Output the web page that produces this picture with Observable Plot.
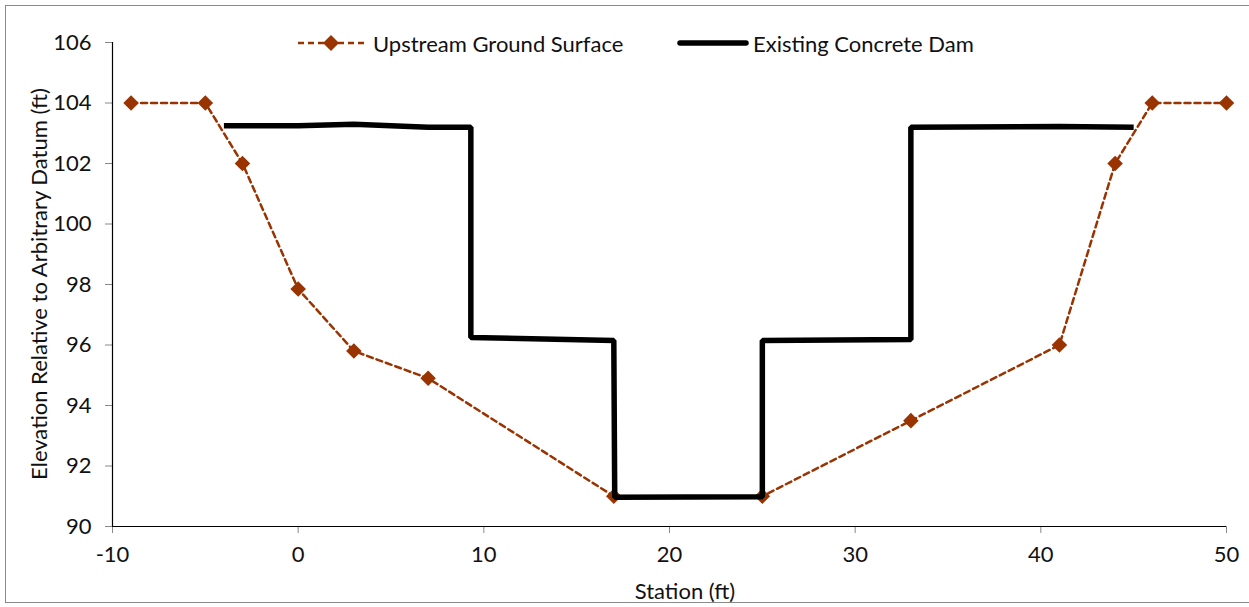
<!DOCTYPE html>
<html>
<head>
<meta charset="utf-8">
<script src="https://cdn.jsdelivr.net/npm/d3@7"></script>
<script src="https://cdn.jsdelivr.net/npm/@observablehq/plot@0.6"></script>
<style>
  html, body { margin: 0; padding: 0; background: #fff; }
  #wrap { position: relative; width: 1249px; height: 607px; overflow: hidden; font-family: Lato, "Open Sans", sans-serif; }
  #frame { position: absolute; left: 5px; top: 5px; width: 1260px; height: 598px; border: 1px solid #8a8a8a; box-sizing: border-box; }
  #chart { position: absolute; left: 0; top: 0; }
  .lbl { position: absolute; font-size: 22px; color: #111; white-space: nowrap; }
  #ylab { left: 38px; top: 284px; transform: translate(-50%, -50%) rotate(-90deg); }
  #xlab { left: 685px; top: 590px; transform: translate(-50%, -50%); }
  #legend { position: absolute; left: 297px; top: 31px; width: 900px; height: 24px; font-size: 22px; color: #111; }
  #legend .item { position: absolute; top: 0; display: flex; align-items: center; white-space: nowrap; height: 24px; }
  #legend svg { display: block; flex: none; }
</style>
</head>
<body>
<div id="wrap">
  <div id="frame"></div>
  <div id="chart"></div>
  <div class="lbl" id="ylab">Elevation Relative to Arbitrary Datum (ft)</div>
  <div class="lbl" id="xlab">Station (ft)</div>
  <div id="legend"></div>
</div>
<script>
// Upstream Ground Surface
const groundStation = [-9, -5, -3, 0, 3, 7, 17, 25, 33, 41, 44, 46, 50];
const groundElev    = [104, 104, 102, 97.85, 95.8, 94.9, 91, 91, 93.5, 96, 102, 104, 104];
// Existing Concrete Dam
const damStation = [-4, 0, 3, 7, 9.3, 9.3, 17, 17.05, 25, 25, 33, 33, 41, 45];
const damElev    = [103.25, 103.25, 103.3, 103.2, 103.2, 96.25, 96.15, 90.97, 90.98, 96.15, 96.18, 103.2, 103.22, 103.2];
// Axes
const xTicks = [-10, 0, 10, 20, 30, 40, 50];
const yTicks = [90, 92, 94, 96, 98, 100, 102, 104, 106];
const seriesNames = ["Upstream Ground Surface", "Existing Concrete Dam"];
const groundColor = "#993300";

const ground = groundStation.map((x, i) => ({x, y: groundElev[i]}));
const dam = damStation.map((x, i) => ({x, y: damElev[i]}));

const chart = Plot.plot({
  width: 1249,
  height: 607,
  marginLeft: 112,
  marginRight: 23,
  marginTop: 42,
  marginBottom: 81,
  style: {fontFamily: "Lato, 'Open Sans', sans-serif", fontSize: "22px", color: "#111", background: "transparent"},
  x: {domain: [-10, 50], ticks: xTicks, label: null},
  y: {domain: [90, 106], ticks: yTicks, label: null},
  marks: [
    Plot.axisY({ticks: yTicks, tickSize: 7, tickPadding: 14, label: null, stroke: "#888", fontSize: 22, tickFormat: d => String(d)}),
    Plot.axisX({ticks: xTicks, tickSize: 7, tickPadding: 13, label: null, stroke: "#888", fontSize: 22, tickFormat: d => String(d)}),
    Plot.ruleX([-10], {stroke: "#000", strokeWidth: 1.2}),
    Plot.ruleY([90], {stroke: "#000", strokeWidth: 1.2}),
    Plot.line(ground, {x: "x", y: "y", stroke: groundColor, strokeWidth: 2.5, strokeDasharray: "6,4"}),
    Plot.dot(ground, {x: "x", y: "y", symbol: "diamond2", r: 7, fill: groundColor, stroke: "none"}),
    Plot.line(dam, {x: "x", y: "y", stroke: "#000", strokeWidth: 5.5, strokeLinejoin: "miter", strokeLinecap: "butt"})
  ]
});
document.getElementById("chart").appendChild(chart);

// Legend
const legend = document.getElementById("legend");
const svgNS = "http://www.w3.org/2000/svg";
function item(kind, name, left) {
  const d = document.createElement("div");
  d.className = "item";
  d.style.left = left + "px";
  const s = document.createElementNS(svgNS, "svg");
  s.setAttribute("width", 72); s.setAttribute("height", 24);
  const l = document.createElementNS(svgNS, "line");
  l.setAttribute("x1", 1); l.setAttribute("x2", 71); l.setAttribute("y1", 12); l.setAttribute("y2", 12);
  if (kind === "ground") {
    l.setAttribute("stroke", groundColor); l.setAttribute("stroke-width", 2.5); l.setAttribute("stroke-dasharray", "6,4");
    s.appendChild(l);
    const p = document.createElementNS(svgNS, "path");
    p.setAttribute("d", "M34,4 L42,12 L34,20 L26,12 Z");
    p.setAttribute("fill", groundColor);
    s.appendChild(p);
  } else {
    l.setAttribute("x1", 3); l.setAttribute("x2", 69);
    l.setAttribute("stroke", "#000"); l.setAttribute("stroke-width", 5.5); l.setAttribute("stroke-linecap", "round");
    s.appendChild(l);
  }
  d.appendChild(s);
  const t = document.createElement("span");
  t.textContent = name;
  t.style.marginLeft = "4px";
  d.appendChild(t);
  legend.appendChild(d);
}
item("ground", seriesNames[0], 0);
item("dam", seriesNames[1], 677 - 297);
</script>
</body>
</html>
